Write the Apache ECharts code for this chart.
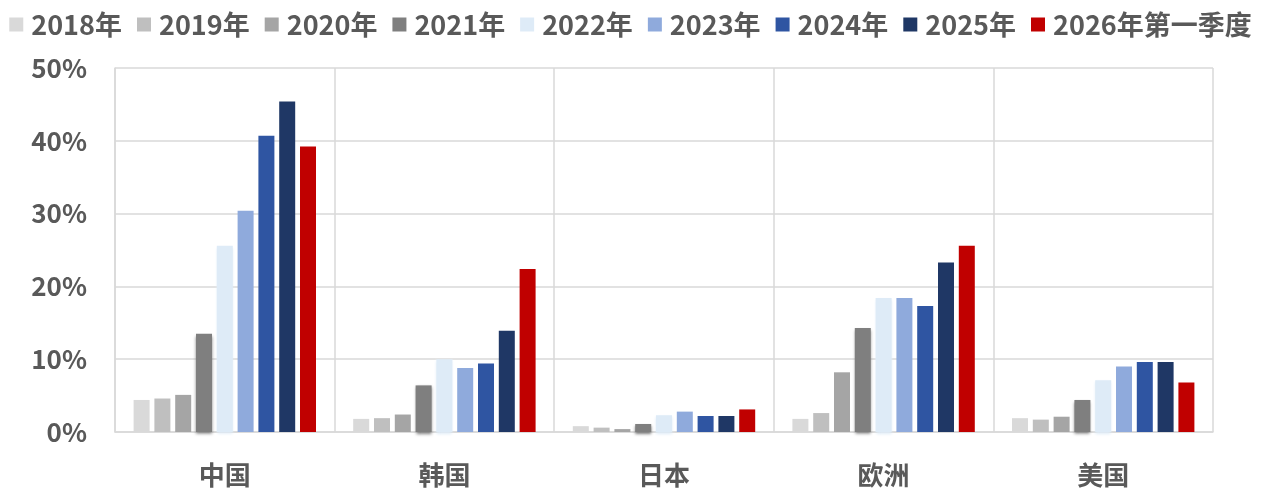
<!DOCTYPE html>
<html>
<head>
<meta charset="utf-8">
<script src="https://cdn.jsdelivr.net/npm/echarts@6/dist/echarts.min.js"></script>
<style>
  html, body { margin: 0; padding: 0; background: #fff; }
  #chart { width: 1261px; height: 492px; }
</style>
</head>
<body>
<div id="chart"></div>
<script>
// 地区
const regions = ["中国", "韩国", "日本", "欧洲", "美国"];
const seriesNames = ["2018年", "2019年", "2020年", "2021年", "2022年", "2023年", "2024年", "2025年", "2026年第一季度"];
const yTicks = [0, 10, 20, 30, 40, 50];

// 各年份占比(%)，顺序同 regions
const v2018 = [4.4, 1.8, 0.8, 1.8, 1.9];
const v2019 = [4.6, 1.9, 0.6, 2.6, 1.7];
const v2020 = [5.1, 2.4, 0.4, 8.2, 2.1];
const v2021 = [13.5, 6.4, 1.1, 14.3, 4.4];
const v2022 = [25.6, 10.0, 2.3, 18.4, 7.1];
const v2023 = [30.4, 8.8, 2.8, 18.4, 9.0];
const v2024 = [40.7, 9.4, 2.2, 17.3, 9.6];
const v2025 = [45.4, 13.9, 2.2, 23.3, 9.6];
const v2026q1 = [39.2, 22.4, 3.1, 25.6, 6.8];

const colors = ["#d9d9d9", "#bfbfbf", "#a5a5a5", "#7f7f7f", "#deebf7", "#8faadc", "#2f55a2", "#1f3765", "#c00000"];
const allData = [v2018, v2019, v2020, v2021, v2022, v2023, v2024, v2025, v2026q1];

const font = "'Noto Sans CJK SC', 'Noto Sans', sans-serif";
const gridColor = "#d9d9d9";
const textColor = "#595959";

const chartDom = document.getElementById("chart");
const myChart = echarts.init(chartDom);

const series = allData.map((d, i) => {
  const s = {
    name: seriesNames[i],
    type: "bar",
    data: d,
    barWidth: 16,
    barGap: "30%",
    color: colors[i],
    itemStyle: { color: colors[i] },
  };
  // 2021/2022 年柱子有阴影
  if (i === 3 || i === 4) {
    s.itemStyle.shadowColor = colors[i];
    s.itemStyle.shadowBlur = 3;
    s.itemStyle.shadowOffsetY = 2;
  }
  return s;
});

const option = {
  animation: false,
  legend: {
    top: 6,
    left: "center",
    itemWidth: 14,
    itemHeight: 14,
    itemGap: 15,
    icon: "rect",
    textStyle: {
      color: textColor,
      fontSize: 27,
      fontWeight: "bold",
      fontFamily: font,
      padding: [0, 0, 0, 3],
    },
    data: seriesNames,
  },
  grid: {
    left: 115,
    right: 48,
    top: 68,
    bottom: 60,
  },
  xAxis: {
    type: "category",
    data: regions,
    axisTick: { show: false },
    axisLine: { show: true, lineStyle: { color: gridColor, width: 1.5 } },
    splitLine: { show: true, lineStyle: { color: gridColor, width: 1.5 } },
    axisLabel: {
      color: textColor,
      fontSize: 26,
      fontWeight: "bold",
      fontFamily: font,
      margin: 30,
    },
  },
  yAxis: {
    type: "value",
    min: yTicks[0],
    max: yTicks[yTicks.length - 1],
    interval: 10,
    axisLine: { show: true, lineStyle: { color: gridColor, width: 1.5 } },
    axisTick: { show: false },
    splitLine: { show: true, lineStyle: { color: gridColor, width: 1.5 } },
    axisLabel: {
      color: textColor,
      fontSize: 26,
      fontWeight: "bold",
      fontFamily: font,
      margin: 28,
      formatter: "{value}%",
    },
  },
  series: series,
};

myChart.setOption(option);
</script>
</body>
</html>
